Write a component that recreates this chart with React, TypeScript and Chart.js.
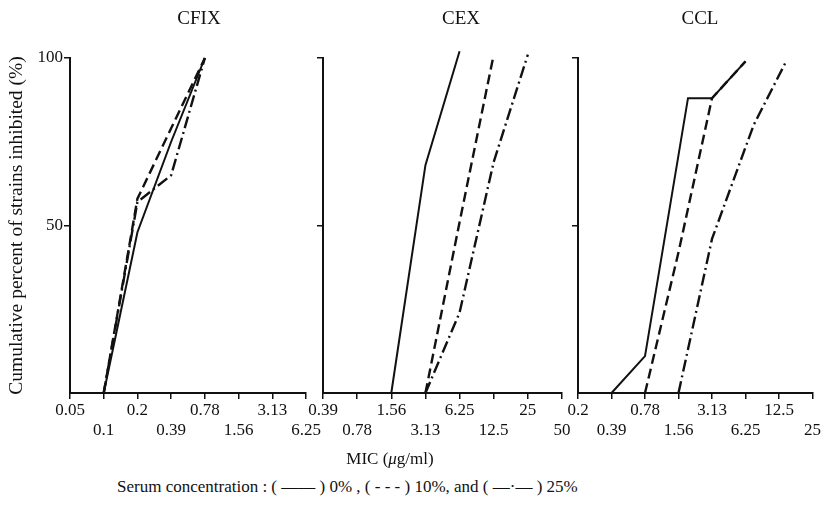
import React, { useEffect, useRef } from 'react';
import { Chart, registerables } from 'chart.js';
Chart.register(...registerables);

const FONT = '"Liberation Serif", "Times New Roman", serif';
const INK = '#111';

// ---- Data ----
const panelTitles = ['CFIX', 'CEX', 'CCL'];
const seriesNames = ['Serum 0%', 'Serum 10%', 'Serum 25%'];
const yTickValues = [50, 100];
const yAxisTitle = 'Cumulative percent of strains inhibited (%)';

const cfixTicks = [0.05, 0.1, 0.2, 0.39, 0.78, 1.56, 3.13, 6.25];
const cexTicks = [0.39, 0.78, 1.56, 3.13, 6.25, 12.5, 25, 50];
const cclTicks = [0.2, 0.39, 0.78, 1.56, 3.13, 6.25, 12.5, 25];

// CFIX
const cfixMic0 = [0.1, 0.2, 0.39, 0.78];
const cfixPct0 = [0, 48, 75, 100];
const cfixMic10 = [0.1, 0.2, 0.39, 0.78];
const cfixPct10 = [0, 58, 79, 100];
const cfixMic25 = [0.1, 0.2, 0.39, 0.78];
const cfixPct25 = [0, 57, 65, 100];

// CEX
const cexMic0 = [1.56, 3.13, 6.25];
const cexPct0 = [0, 68, 102];
const cexMic10 = [3.13, 6.25, 12.5];
const cexPct10 = [0, 51, 101];
const cexMic25 = [3.13, 6.25, 12.5, 25];
const cexPct25 = [0, 24, 69, 101];

// CCL
const cclMic0 = [0.39, 0.78, 1.9, 3.13, 6.25];
const cclPct0 = [0, 11, 88, 88, 99];
const cclMic10 = [0.78, 1.56, 3.13, 6.25];
const cclPct10 = [0, 42, 88, 99];
const cclMic25 = [1.56, 3.13, 7.4, 14.5];
const cclPct25 = [0, 46, 80, 99];

const dashes: number[][] = [[], [10, 5], [12, 4, 2, 4]];

// position of an MIC value on the doubling-dilution axis (index of tick labels)
function micPos(v: number, ticks: number[]): number {
  const exact = ticks.indexOf(v);
  if (exact >= 0) return exact;
  for (let i = 0; i < ticks.length - 1; i++) {
    if (v > ticks[i] && v < ticks[i + 1]) {
      return i + Math.log(v / ticks[i]) / Math.log(ticks[i + 1] / ticks[i]);
    }
  }
  return Math.log2(v / ticks[0]);
}

type PanelDef = {
  title: string;
  ticks: number[];
  series: { mic: number[]; pct: number[] }[];
  left: number;
  width: number;
  padLeft: number;
  padRight: number;
  yWidth: number;
  yLabels: boolean;
  titleX: number;
};

const panels: PanelDef[] = [
  {
    title: panelTitles[0], ticks: cfixTicks,
    series: [{ mic: cfixMic0, pct: cfixPct0 }, { mic: cfixMic10, pct: cfixPct10 }, { mic: cfixMic25, pct: cfixPct25 }],
    left: 0, width: 330, padLeft: 0, padRight: 24, yWidth: 70, yLabels: true, titleX: 199,
  },
  {
    title: panelTitles[1], ticks: cexTicks,
    series: [{ mic: cexMic0, pct: cexPct0 }, { mic: cexMic10, pct: cexPct10 }, { mic: cexMic25, pct: cexPct25 }],
    left: 302, width: 272, padLeft: 8, padRight: 12, yWidth: 13, yLabels: false, titleX: 461,
  },
  {
    title: panelTitles[2], ticks: cclTicks,
    series: [{ mic: cclMic0, pct: cclPct0 }, { mic: cclMic10, pct: cclPct10 }, { mic: cclMic25, pct: cclPct25 }],
    left: 557, width: 265, padLeft: 8, padRight: 9, yWidth: 13, yLabels: false, titleX: 700,
  },
];

const CANVAS_H = 450;
const TOP = 58;
const X_AXIS_H = 57;

function Panel({ def }: { def: PanelDef }) {
  const ref = useRef<HTMLCanvasElement | null>(null);
  useEffect(() => {
    if (!ref.current) return;
    const ticks = def.ticks;
    const chart = new Chart(ref.current, {
      type: 'line',
      data: {
        datasets: def.series.map((s, i) => ({
          label: seriesNames[i],
          data: s.mic.map((m, j) => ({ x: micPos(m, ticks), y: s.pct[j] })),
          borderColor: INK,
          borderWidth: i === 0 ? 2 : 2.4,
          borderDash: dashes[i],
          pointRadius: 0,
          fill: false,
          tension: 0,
          clip: false as any,
        })),
      },
      options: {
        responsive: false,
        animation: false,
        devicePixelRatio: 1,
        layout: { padding: { top: TOP, left: def.padLeft, right: def.padRight, bottom: 0 } },
        plugins: { legend: { display: false }, tooltip: { enabled: false }, title: { display: false } },
        scales: {
          x: {
            type: 'linear',
            min: 0,
            max: ticks.length - 1,
            afterBuildTicks: (scale: any) => {
              scale.ticks = ticks.map((_, i) => ({ value: i }));
            },
            afterFit: (scale: any) => { scale.height = X_AXIS_H; },
            grid: { drawOnChartArea: false, drawTicks: true, tickLength: 6, color: INK, lineWidth: 1.5 },
            border: { display: true, color: INK, width: 2 },
            ticks: {
              autoSkip: false,
              maxRotation: 0,
              minRotation: 0,
              padding: 1,
              color: '#111',
              font: { family: FONT, size: 17, lineHeight: 1.2 },
              callback: (v: any, i: number) => {
                const lab = String(ticks[i]);
                return i % 2 === 0 ? lab : ['', lab];
              },
            },
          },
          y: {
            type: 'linear',
            min: 0,
            max: 100,
            afterBuildTicks: (scale: any) => {
              scale.ticks = yTickValues.map((v) => ({ value: v }));
            },
            afterFit: (scale: any) => { scale.width = def.yWidth; },
            grid: { drawOnChartArea: false, drawTicks: true, tickLength: 6, color: INK, lineWidth: 1.5 },
            border: { display: true, color: INK, width: 2 },
            ticks: {
              padding: 1,
              color: '#111',
              font: { family: FONT, size: 17 },
              callback: (v: any) => (def.yLabels ? String(v) : ''),
            },
            title: {
              display: def.yLabels,
              text: yAxisTitle,
              color: '#111',
              font: { family: FONT, size: 19.5 },
              padding: { top: 5, bottom: 0 },
            },
          },
        },
      },
    });
    return () => chart.destroy();
  }, [def]);
  return (
    <canvas
      ref={ref}
      width={def.width}
      height={CANVAS_H}
      style={{ position: 'absolute', left: def.left, top: 0, width: def.width, height: CANVAS_H }}
    />
  );
}

const textStyle: React.CSSProperties = {
  position: 'absolute',
  fontFamily: FONT,
  color: '#111',
  whiteSpace: 'nowrap',
  lineHeight: 1,
};

export default function App() {
  return (
    <div style={{ position: 'absolute', left: 0, top: 0, width: 822, height: 507, background: '#fff', overflow: 'hidden' }}>
      {panels.map((p) => (
        <Panel key={p.title} def={p} />
      ))}
      {panels.map((p) => (
        <div key={'t' + p.title} style={{ ...textStyle, fontSize: 19, left: p.titleX, top: 17, transform: 'translate(-50%, -50%)' }}>
          {p.title}
        </div>
      ))}
      <div style={{ ...textStyle, fontSize: 17, left: 390, top: 458, transform: 'translate(-50%, -50%)' }}>
        MIC (<i>μ</i>g/ml)
      </div>
      <div style={{ ...textStyle, fontSize: 17, left: 117, top: 486, transform: 'translate(0, -50%)' }}>
        Serum concentration : ( —— ) 0% , ( - - - ) 10%, and ( —·— ) 25%
      </div>
    </div>
  );
}
